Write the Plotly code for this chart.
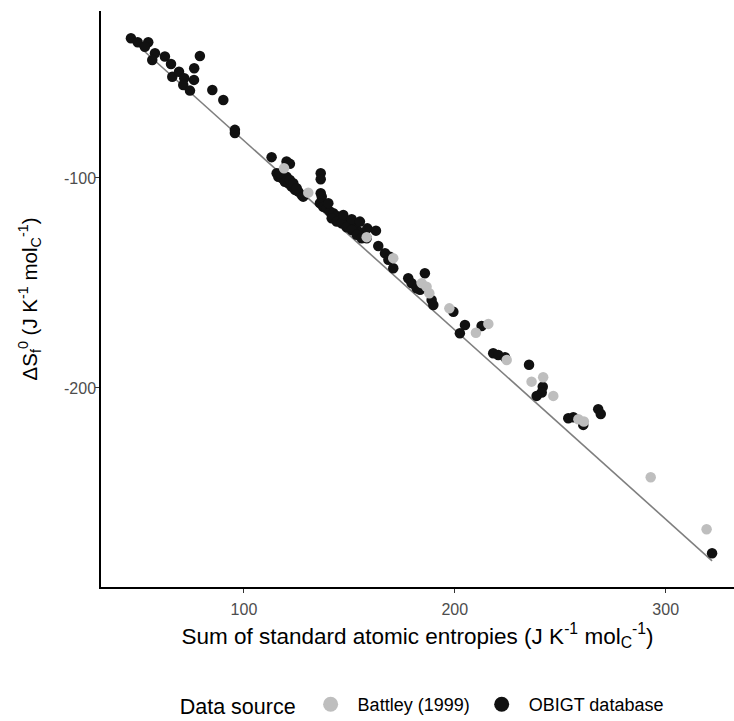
import plotly.graph_objects as go

# OBIGT database points (sum of atomic entropies, ΔSf0)
obigt_x = [46.4, 49.6, 54.6, 53.0, 57.8, 56.5, 62.5, 65.4, 66.0, 69.2, 71.7, 71.2, 74.4, 76.3, 76.4, 79.1,
           85.0, 90.2, 95.7, 95.7, 113.1, 120.2, 121.8, 115.5, 116.3, 117.9, 119.4, 121.0, 122.6, 124.2,
           125.8, 127.4, 128.1, 120.2, 121.8, 123.4, 117.1, 125.0, 136.4, 136.4, 136.4, 136.9, 136.0, 137.6,
           139.2, 140.8, 142.4, 144.0, 145.5, 147.1, 148.7, 150.3, 151.8, 153.5, 155.0, 156.6, 158.2, 141.6,
           144.0, 146.3, 148.7, 151.1, 153.5, 155.8, 140.0, 147.1, 151.1, 155.0, 158.5, 162.6, 163.7, 166.9,
           169.2, 168.5, 170.8, 185.8, 177.9, 179.5, 181.9, 183.5, 189.0, 189.8, 199.3, 204.8, 202.4, 212.7,
           218.2, 220.6, 223.8, 235.2, 241.7, 241.2, 238.8, 253.8, 256.2, 260.9, 268.0, 269.2, 322.0]
obigt_y = [-33.5, -35.4, -35.4, -37.5, -40.6, -43.8, -42.2, -45.7, -51.8, -49.4, -52.5, -55.7, -58.4, -53.3, -47.8, -41.9,
           -58.1, -62.9, -77.1, -78.6, -90.1, -92.2, -93.3, -97.8, -99.4, -100.1, -101.8, -102.5, -104.1, -105.7,
           -106.5, -108.1, -108.9, -99.4, -101.0, -102.5, -97.8, -104.9, -97.8, -100.6, -107.3, -108.9, -112.0, -113.7,
           -114.4, -116.0, -116.8, -118.1, -119.2, -120.0, -121.3, -122.4, -123.5, -124.8, -126.0, -127.6, -128.7, -119.2,
           -120.8, -121.6, -123.5, -124.8, -127.1, -128.7, -112.0, -117.6, -119.7, -120.8, -124.0, -125.1, -132.4, -135.9,
           -137.5, -139.0, -143.0, -145.4, -147.8, -150.1, -152.5, -153.3, -158.1, -160.5, -163.7, -170.0, -174.0, -170.5,
           -183.5, -184.3, -185.4, -189.0, -199.4, -202.2, -203.8, -214.4, -214.0, -217.6, -210.1, -212.4, -278.7]

# Battley (1999) points
battley_x = [119.0, 130.5, 158.2, 170.8, 184.3, 186.6, 187.9, 197.4, 210.0, 215.9, 224.6, 236.4, 241.9, 246.7,
             258.6, 261.2, 292.9, 319.4]
battley_y = [-95.4, -107.0, -128.2, -138.2, -150.1, -151.8, -154.9, -162.1, -173.7, -169.5, -186.7, -197.0, -194.9,
             -203.8, -214.9, -216.0, -242.5, -267.3]

# linear fit
fit_slope = -0.9013
fit_intercept = 7.87

x_ticks = [100, 200, 300]
x_tick_labels = ["100", "200", "300"]
y_ticks = [-100, -200]
y_tick_labels = ["-100", "-200"]

series_names = ["Battley (1999)", "OBIGT database"]
series_colors = ["#BEBEBE", "#111111"]

all_x = obigt_x + battley_x
fx = [min(all_x), max(all_x)]
fy = [fit_intercept + fit_slope * v for v in fx]

FONT = "Liberation Sans, Arial, sans-serif"

fig = go.Figure()
fig.add_trace(go.Scatter(x=fx, y=fy, mode="lines", line=dict(color="#7F7F7F", width=1.6),
                         showlegend=False, hoverinfo="skip"))
fig.add_trace(go.Scatter(x=obigt_x, y=obigt_y, mode="markers", name=series_names[1],
                         marker=dict(color=series_colors[1], size=10.5), showlegend=False))
fig.add_trace(go.Scatter(x=battley_x, y=battley_y, mode="markers", name=series_names[0],
                         marker=dict(color=series_colors[0], size=10.5), showlegend=False))
# legend entries (larger keys, as in the reference)
for nm, col in zip(series_names, series_colors):
    fig.add_trace(go.Scatter(x=[None], y=[None], mode="markers", name=nm,
                             marker=dict(color=col, size=15), showlegend=True))

fig.update_layout(
    width=734, height=721,
    margin=dict(l=101, r=0, t=11, b=134, autoexpand=False),
    plot_bgcolor="white", paper_bgcolor="white",
    font=dict(family=FONT, color="black"),
    legend=dict(orientation="h", x=0.509, xanchor="center", y=-0.205, yanchor="middle",
                title=dict(text="Data source", font=dict(size=21.5, color="black")),
                font=dict(size=18, color="black"), itemwidth=44, traceorder="normal"),
    xaxis=dict(range=[32.2, 332.4], tickvals=x_ticks, ticktext=x_tick_labels, ticks="outside", ticklen=4,
               tickcolor="#333333", ticklabelstandoff=3, automargin=False,
               showline=True, linecolor="black", linewidth=1.5, showgrid=False, zeroline=False,
               tickfont=dict(size=16, color="#4D4D4D"),
               title=dict(text="Sum of standard atomic entropies (J K<sup>-1</sup> mol<sub>C</sub><sup>-1</sup>)",
                          font=dict(size=22.5, color="black"), standoff=11)),
    yaxis=dict(range=[-294.8, -20.5], tickvals=y_ticks, ticktext=y_tick_labels, ticks="outside", ticklen=4,
               tickcolor="#333333", ticklabelstandoff=-4, automargin=False,
               showline=True, linecolor="black", linewidth=1.5, showgrid=False, zeroline=False,
               tickfont=dict(size=16, color="#4D4D4D"),
               title=dict(text="ΔS<sub>f</sub><sup>0</sup> (J K<sup>-1</sup> mol<sub>C</sub><sup>-1</sup>)",
                          font=dict(size=20.5, color="black"), standoff=21)),
)

# remove the default page margin so the figure sits at the window origin
fig.write_html("out.html", config={"displayModeBar": False},
               post_script="document.body.style.margin='0';document.body.style.overflow='hidden';")
